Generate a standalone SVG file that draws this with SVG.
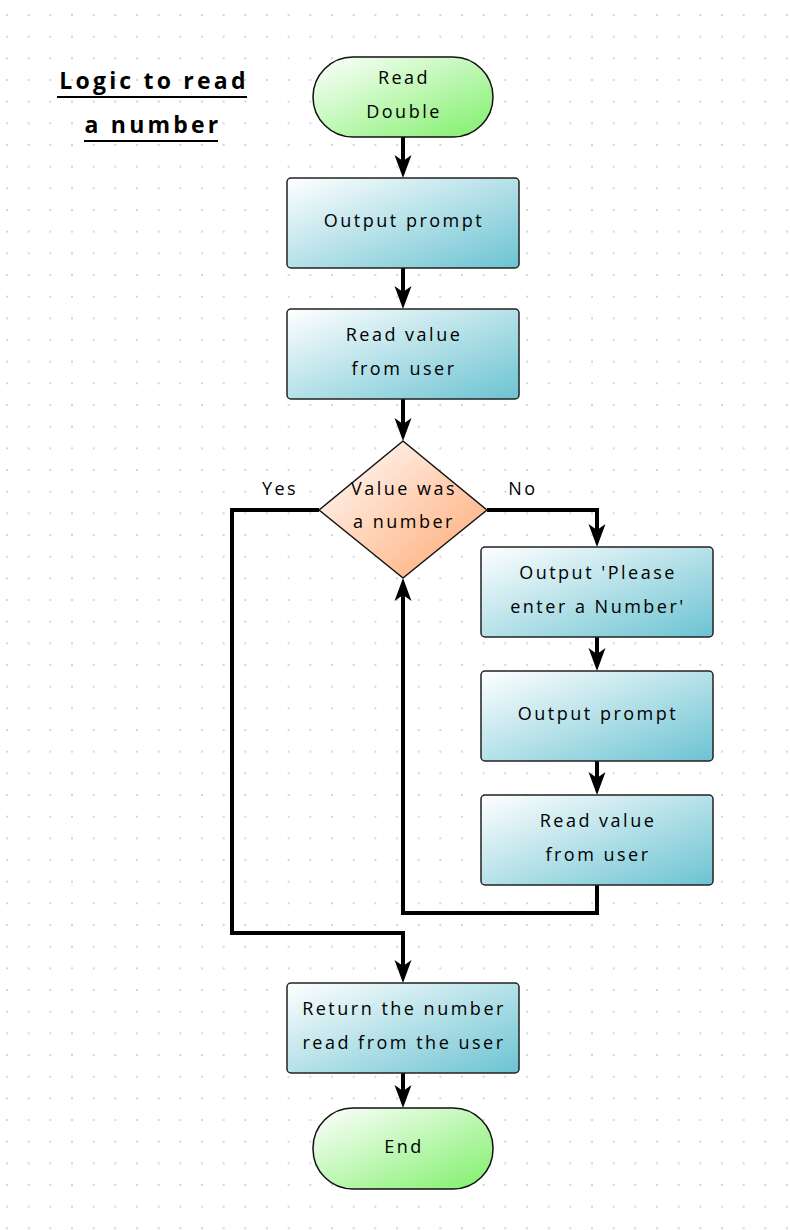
<svg xmlns="http://www.w3.org/2000/svg" width="790" height="1230" viewBox="0 0 790 1230">
<defs>
<pattern id="dots" x="7" y="15" width="21.667" height="21.667" patternUnits="userSpaceOnUse">
<circle cx="0" cy="0" r="1" fill="#c8c8c8"/><circle cx="21.667" cy="0" r="1" fill="#c8c8c8"/><circle cx="0" cy="21.667" r="1" fill="#c8c8c8"/><circle cx="21.667" cy="21.667" r="1" fill="#c8c8c8"/>
</pattern>
<linearGradient id="gGreen" x1="0" y1="0" x2="1" y2="1"><stop offset="0" stop-color="#ffffff"/><stop offset="1" stop-color="#7ff06a"/></linearGradient>
<linearGradient id="gTeal" x1="0" y1="0" x2="1" y2="1"><stop offset="0" stop-color="#ffffff"/><stop offset="1" stop-color="#6cc3d2"/></linearGradient>
<linearGradient id="gOrange" x1="0" y1="0" x2="1" y2="1"><stop offset="0" stop-color="#ffffff"/><stop offset="1" stop-color="#ffa66e"/></linearGradient>
<marker id="arrow" viewBox="-12 -10 26 20" refX="0" refY="0" markerWidth="26" markerHeight="20" markerUnits="userSpaceOnUse" orient="auto">
<path d="M12,0 L-11,-8.5 L-5,0 L-11,8.5 Z" fill="#000"/>
</marker>
<style>
.t{font-family:"Open Sans","DejaVu Sans",sans-serif;font-size:18px;letter-spacing:2.5px;fill:#000;text-anchor:middle;dominant-baseline:central}
.title{font-family:"Open Sans","DejaVu Sans",sans-serif;font-size:23px;font-weight:bold;letter-spacing:3.2px;fill:#000;text-anchor:middle;dominant-baseline:central}
.term{fill:url(#gGreen);stroke:#111;stroke-width:1.5}
.box{fill:url(#gTeal);stroke:#222;stroke-width:1.5}
.dec{fill:url(#gOrange);stroke:#111;stroke-width:1.5}
.c{fill:none;stroke:#000;stroke-width:4;marker-end:url(#arrow)}
</style>
</defs>
<rect width="790" height="1230" fill="#ffffff"/>
<rect width="790" height="1230" fill="url(#dots)"/>

<g id="title">
<text class="title" x="154" y="80">Logic to read</text>
<text class="title" x="153" y="124">a number</text>
<line x1="57" y1="97" x2="247" y2="97" stroke="#000" stroke-width="2"/>
<line x1="84" y1="141" x2="218" y2="141" stroke="#000" stroke-width="2"/>
</g>

<g id="connectors">
<path class="c" d="M403 137 V166"/>
<path class="c" d="M403 268 V297"/>
<path class="c" d="M403 399 V429"/>
<path class="c" d="M319 510 H232 V933 H403 V971"/>
<path class="c" d="M487 510 H597 V535"/>
<path class="c" d="M597 637 V659"/>
<path class="c" d="M597 761 V783"/>
<path class="c" d="M597 885 V913 H403 V590"/>
<path class="c" d="M403 1073 V1096"/>
<text class="t" x="280" y="488">Yes</text>
<text class="t" x="523" y="488">No</text>
</g>

<g id="start">
<rect class="term" x="313" y="57" width="180" height="80" rx="40"/>
<text class="t" x="404" y="77">Read</text>
<text class="t" x="404" y="111">Double</text>
</g>

<g id="output-prompt-1">
<rect class="box" x="287" y="178" width="232" height="90" rx="4"/>
<text class="t" x="404" y="220">Output prompt</text>
</g>

<g id="read-value-1">
<rect class="box" x="287" y="309" width="232" height="90" rx="4"/>
<text class="t" x="404" y="334">Read value</text>
<text class="t" x="404" y="368">from user</text>
</g>

<g id="decision">
<path class="dec" d="M403 441 L487 510 L403 578 L319 510 Z" stroke-linejoin="round"/>
<text class="t" x="404" y="488">Value was</text>
<text class="t" x="404" y="521">a number</text>
</g>

<g id="output-please">
<rect class="box" x="481" y="547" width="232" height="90" rx="4"/>
<text class="t" x="598" y="572">Output 'Please</text>
<text class="t" x="598" y="606">enter a Number'</text>
</g>

<g id="output-prompt-2">
<rect class="box" x="481" y="671" width="232" height="90" rx="4"/>
<text class="t" x="598" y="713">Output prompt</text>
</g>

<g id="read-value-2">
<rect class="box" x="481" y="795" width="232" height="90" rx="4"/>
<text class="t" x="598" y="820">Read value</text>
<text class="t" x="598" y="854">from user</text>
</g>

<g id="return">
<rect class="box" x="287" y="983" width="232" height="90" rx="4"/>
<text class="t" x="404" y="1008">Return the number</text>
<text class="t" x="404" y="1042">read from the user</text>
</g>

<g id="end">
<rect class="term" x="313" y="1108" width="180" height="81" rx="40"/>
<text class="t" x="404" y="1146">End</text>
</g>
</svg>
